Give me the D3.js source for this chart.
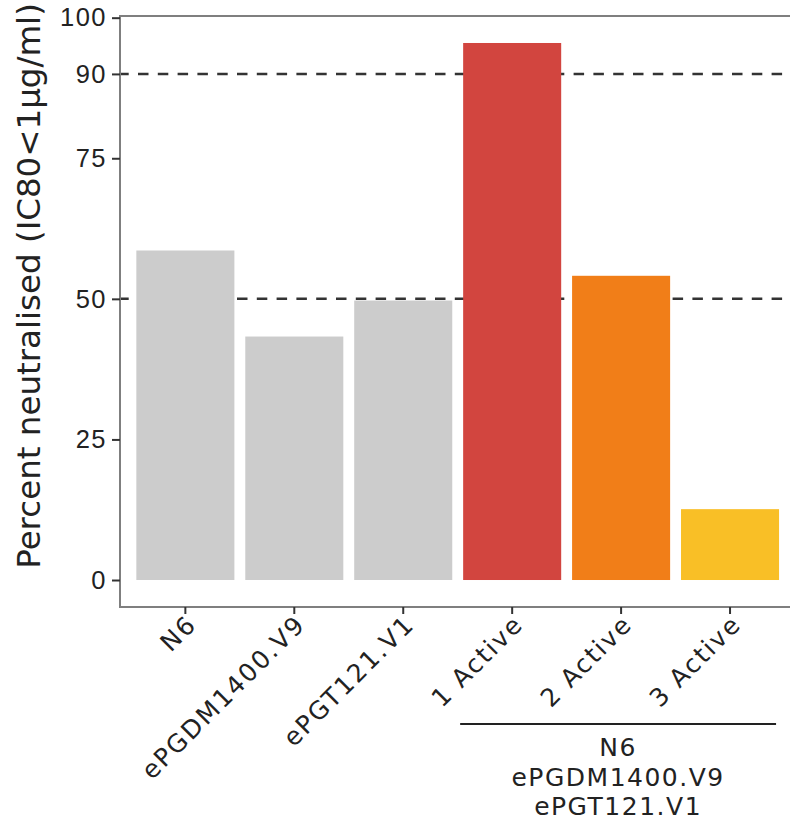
<!DOCTYPE html>
<html>
<head>
<meta charset="utf-8">
<script src="https://cdn.jsdelivr.net/npm/d3@7"></script>
<style>
  body { margin: 0; background: #fff; }
  svg { display: block; }
</style>
</head>
<body>
<div id="chart"></div>
<script>
// data
const categories = ['N6', 'ePGDM1400.V9', 'ePGT121.V1', '1 Active', '2 Active', '3 Active'];
const percentNeutralised = [58.6, 43.3, 49.7, 95.5, 54.1, 12.6];
const barColors = ['#cccccc', '#cccccc', '#cccccc', '#d2453f', '#f17e18', '#f9bf26'];
const yTicks = [0, 25, 50, 75, 90, 100];
const refLines = [50, 90];
const comboGroup = ['1 Active', '2 Active', '3 Active'];
const comboLabel = ['N6', 'ePGDM1400.V9', 'ePGT121.V1'];

const width = 790;
const height = 822;
const panel = {left: 120, right: 795.4, top: 16, bottom: 607};

const svg = d3.select('#chart')
    .append('svg')
    .attr('width', width)
    .attr('height', height);

const x = d3.scaleBand()
    .domain(categories)
    .range([panel.left, panel.right])
    .paddingInner(0.1)
    .paddingOuter(0.15);

const y = d3.scaleLinear()
    .domain([-4.8, 100.3])
    .range([panel.bottom, panel.top]);

// dashed reference lines sit behind the bars
svg.append('g').selectAll('line')
    .data(refLines)
    .join('line')
    .attr('x1', panel.left)
    .attr('x2', width)
    .attr('y1', d => y(d))
    .attr('y2', d => y(d))
    .style('stroke', '#333')
    .style('stroke-width', 2.5)
    .style('stroke-dasharray', '10.5,9.3')
    .style('stroke-dashoffset', 1.8);

svg.append('g').selectAll('rect')
    .data(categories)
    .join('rect')
    .attr('x', d => x(d))
    .attr('width', x.bandwidth())
    .attr('y', (d, i) => y(percentNeutralised[i]))
    .attr('height', (d, i) => y(0) - y(percentNeutralised[i]))
    .style('fill', (d, i) => barColors[i]);

// panel border (left, top, bottom)
svg.append('path')
    .attr('d', `M${width},${panel.top}H${panel.left}V${panel.bottom}H${width}`)
    .style('fill', 'none')
    .style('stroke', '#7f7f7f')
    .style('stroke-width', 2);

// y axis
const yAxis = svg.append('g')
    .attr('transform', `translate(${panel.left},0)`)
    .call(d3.axisLeft(y).tickValues(yTicks).tickSize(8).tickPadding(5));
yAxis.select('.domain').remove();
yAxis.selectAll('.tick line').style('stroke', '#333').style('stroke-width', 2);
yAxis.selectAll('.tick text')
    .style('font-family', '"Liberation Sans", Arial, sans-serif')
    .style('font-size', '25.5px')
    .style('letter-spacing', '1.5px')
    .style('fill', '#222');

// x axis
const xAxis = svg.append('g')
    .attr('transform', `translate(0,${panel.bottom})`)
    .call(d3.axisBottom(x).tickSize(7).tickFormat(''));
xAxis.select('.domain').remove();
xAxis.selectAll('.tick line').style('stroke', '#333').style('stroke-width', 2);

svg.append('g').selectAll('text')
    .data(categories)
    .join('text')
    .attr('transform', d => `translate(${x(d) + x.bandwidth() / 2},${panel.bottom + 6}) rotate(-45)`)
    .attr('dy', '0.72em')
    .attr('text-anchor', 'end')
    .style('font-family', '"DejaVu Sans", Verdana, sans-serif')
    .style('font-size', '25px')
    .style('letter-spacing', '2px')
    .style('fill', '#222')
    .text(d => d);

// y label
svg.append('text')
    .attr('transform', 'translate(40,286) rotate(-90)')
    .attr('text-anchor', 'middle')
    .style('font-family', '"DejaVu Sans", Verdana, sans-serif')
    .style('font-size', '32.5px')
    .style('fill', '#222')
    .text('Percent neutralised (IC80<1µg/ml)');

// bracket under the combination bars
const bx0 = x(comboGroup[0]) - 3;
const bx1 = x(comboGroup[comboGroup.length - 1]) + x.bandwidth() - 3;
svg.append('line')
    .attr('x1', bx0)
    .attr('x2', bx1)
    .attr('y1', 724)
    .attr('y2', 724)
    .style('stroke', '#222')
    .style('stroke-width', 2);

svg.append('g').selectAll('text')
    .data(comboLabel)
    .join('text')
    .attr('x', (bx0 + bx1) / 2)
    .attr('y', (d, i) => 756 + i * 29.5)
    .attr('text-anchor', 'middle')
    .style('font-family', '"DejaVu Sans", Verdana, sans-serif')
    .style('font-size', '25px')
    .style('letter-spacing', '1.5px')
    .style('fill', '#222')
    .text(d => d);
</script>
</body>
</html>
